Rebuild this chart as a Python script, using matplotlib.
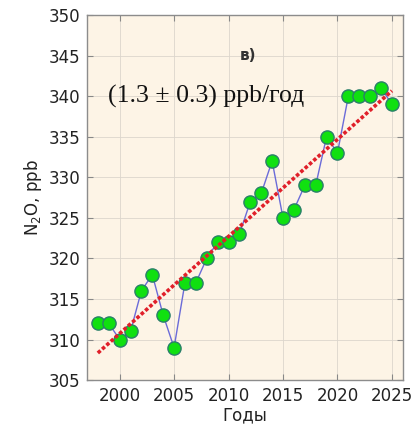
import numpy as np
import matplotlib.pyplot as plt

# annual mean N2O, ppb
years = list(range(1998, 2026))
n2o = [312, 312, 310, 311, 316, 318, 313, 309, 317, 317,
       320, 322, 322, 323, 327, 328, 332, 325, 326, 329,
       329, 335, 333, 340, 340, 340, 341, 339]

trend_label = "(1.3 ± 0.3) ppb/год"
panel_label = "в)"

x = np.array(years)
y = np.array(n2o)
k, b = np.polyfit(x, y, 1)

fig = plt.figure(figsize=(4.14, 4.29), dpi=100)
ax = fig.add_axes([0.21, 0.114, 0.763, 0.851])
ax.set_facecolor('#fdf4e6')

ax.plot(x, y, color='#6b6bd8', linewidth=1.0, zorder=2)
ax.plot(x, y, linestyle='none', marker='o', markersize=9.5,
        markerfacecolor='#10e010', markeredgecolor='#2a7f6a',
        markeredgewidth=1.0, zorder=3)
ax.plot(x, k * x + b, color='#e0202a', linestyle=(0, (1, 0.6)),
        linewidth=2.6, zorder=4)

ax.set_xlim(1997, 2026)
ax.set_ylim(305, 350)
ax.set_xticks(range(2000, 2026, 5))
ax.set_yticks(range(305, 351, 5))
ax.grid(True, color='#dcd6cc', linewidth=0.6)
ax.set_axisbelow(True)
ax.tick_params(direction='in', top=True, right=True, length=4,
               color='#888888', labelsize=12, labelcolor='#222222', pad=5)
for s in ax.spines.values():
    s.set_color('#8c8c8c')
    s.set_linewidth(1.0)

ax.set_xlabel('Годы', fontsize=12, color='#222222', labelpad=1)
ax.set_ylabel('N$_2$O, ppb', fontsize=12, color='#222222', labelpad=3)

ax.text(1998.9, 340, trend_label, family='Liberation Serif', fontsize=18.5,
        va='center', ha='left', color='#111111')
ax.text(2011.8, 345, panel_label, fontsize=11, fontweight='semibold',
        va='center', ha='center', color='#333333')

fig.savefig('out.png', dpi=100)
